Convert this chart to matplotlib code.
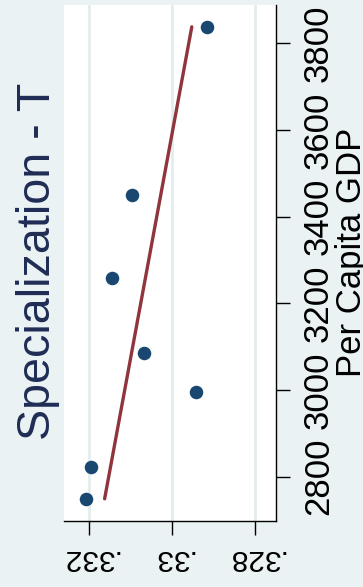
import matplotlib
matplotlib.use("Agg")
import matplotlib.pyplot as plt
import numpy as np

plt.rcParams['font.family'] = ['Liberation Sans', 'DejaVu Sans']

# Per-country observations
gdp = [3838, 3449, 3259, 3086, 2996, 2823, 2749]
spec = [0.32915, 0.33097, 0.33145, 0.33067, 0.32942, 0.33194, 0.33206]

gdp_ticks = [2800, 3000, 3200, 3400, 3600, 3800]
gdp_labels = ["2800", "3000", "3200", "3400", "3600", "3800"]
spec_ticks = [0.332, 0.330, 0.328]
spec_labels = [".332", ".33", ".328"]

BG = "#eaf2f3"
NAVY = "#1a476f"
MAROON = "#90353b"
TITLE = "#1f2d55"

W, H = 363, 587
fig = plt.figure(figsize=(W / 100, H / 100), dpi=100, facecolor=BG)

# plot region in pixel terms
left, right, top, bottom = 64, 276, 5, 521
ax = fig.add_axes([left / W, 1 - bottom / H, (right - left) / W, (bottom - top) / H])
ax.set_facecolor("white")

ax.set_xlim(0.332602, 0.327494)
ax.set_ylim(2697.8, 3888.4)

# vertical grid at the specialization ticks
for v in spec_ticks:
    ax.axvline(v, color="#e3edef", lw=2.0, zorder=1)

ax.scatter(spec, gdp, s=95, color=NAVY, zorder=3, linewidths=0)

# linear fit of specialization on GDP
b1, b0 = np.polyfit(gdp, spec, 1)
g = np.array([min(gdp), max(gdp)])
ax.plot(b0 + b1 * g, g, color=MAROON, lw=2.4, solid_capstyle="round", zorder=4)

for s in ("left", "top"):
    ax.spines[s].set_visible(False)
for s in ("right", "bottom"):
    ax.spines[s].set_linewidth(1.0)
    ax.spines[s].set_color("black")

ax.yaxis.tick_right()
ax.set_yticks(gdp_ticks)
ax.set_yticklabels(gdp_labels, fontsize=25)
ax.set_xticks(spec_ticks)
ax.set_xticklabels(spec_labels, fontsize=21.5)
ax.tick_params(axis="both", direction="out", length=10, width=1.0, color="black")
ax.tick_params(axis="y", pad=27.5)
ax.tick_params(axis="x", pad=11)

for lbl in ax.get_yticklabels():
    lbl.set_rotation(90)
    lbl.set_rotation_mode("anchor")
    lbl.set_ha("center")
    lbl.set_va("baseline")
for lbl in ax.get_xticklabels():
    lbl.set_rotation(180)
    lbl.set_rotation_mode("anchor")
    lbl.set_ha("center")
    lbl.set_va("baseline")

fig.text(50 / W, 1 - 261 / H, "Specialization - T", rotation=90,
         rotation_mode="anchor", ha="center", va="baseline",
         fontsize=33.6, color=TITLE)
fig.text(361 / W, 1 - 252 / H, "Per Capita GDP", rotation=90,
         rotation_mode="anchor", ha="center", va="baseline",
         fontsize=25, color="black")

fig.savefig("out.png", dpi=100, facecolor=BG)
